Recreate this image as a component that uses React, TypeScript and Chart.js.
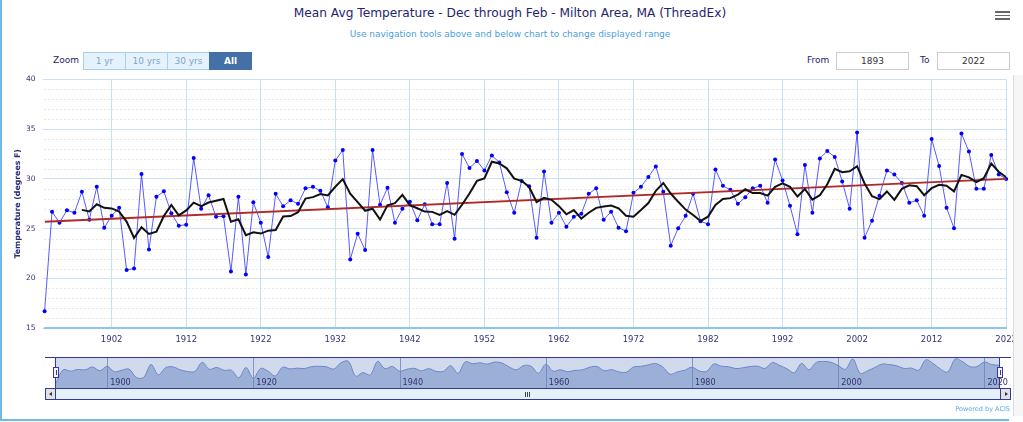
import React, { useEffect, useRef } from "react";
import { Chart, registerables } from "chart.js";

Chart.register(...registerables);

// ---------- data ----------
const firstYear = 1893;
const lastYear = 2022;
// Mean of Dec-Feb temperature (deg F), one value per year from 1893 to 2022
const meanTemp = [
  16.7, 26.7, 25.6, 26.85, 26.6, 28.7, 25.9, // 1893-1899
  29.2, 25.1, 26.3, 27.1, 20.85, 21.0, 30.5, 22.9, 28.2, 28.75, // 1900s
  26.55, 25.3, 25.4, 32.1, 27.0, 28.35, 26.2, 26.25, 20.7, 28.2, // 1910s
  20.4, 27.65, 25.6, 22.15, 28.5, 27.25, 27.85, 27.5, 29.05, 29.2, // 1920s
  28.8, 27.15, 31.85, 32.9, 21.9, 24.5, 22.85, 32.9, 27.4, 29.1, // 1930s
  25.6, 27.0, 27.7, 25.85, 27.45, 25.45, 25.45, 29.6, 24.0, 32.5, // 1940s
  31.1, 31.8, 30.85, 32.35, 31.65, 28.65, 26.6, 29.8, 29.25, 24.1, // 1950s
  30.75, 25.6, 26.6, 25.2, 26.2, 26.5, 28.5, 29.05, 25.9, 26.7, // 1960s
  25.1, 24.75, 28.6, 29.2, 30.2, 31.25, 28.7, 23.3, 25.05, 26.3, // 1970s
  28.5, 25.75, 25.45, 30.95, 29.3, 28.9, 27.5, 28.15, 29.05, 29.3, // 1980s
  27.6, 31.95, 29.85, 27.3, 24.45, 31.4, 26.6, 32.05, 32.8, 32.2, // 1990s
  29.75, 27.0, 34.65, 24.1, 25.8, 28.3, 30.85, 30.45, 29.6, 27.6, // 2000s
  27.85, 26.3, 34.0, 31.3, 27.1, 25.05, 34.55, 32.75, 29.0, 29.0, // 2010s
  32.4, 30.45, 30.0, // 2020-2022
];

// 5-year running mean (black line), starts 1898
const meanStartYear = 1898;
const fiveYearMean = [
  26.89, 26.73, // 1898-1899
  27.45, 27.1, 27.04, 26.72, 25.71, 24.07, 25.15, 24.47, 24.69, 26.27,
  27.38, 26.34, 26.84, 27.62, 27.27, 27.63, 27.81, 27.98, 25.7, 25.94,
  24.35, 24.64, 24.51, 24.8, 24.86, 26.23, 26.27, 26.65, 28.03, 28.17,
  28.48, 28.34, 29.21, 29.98, 28.52, 27.66, 26.8, 27.01, 25.91, 27.35,
  27.57, 28.4, 27.36, 27.05, 26.72, 26.69, 26.38, 26.76, 26.39, 27.4,
  28.53, 29.8, 30.05, 31.72, 31.55, 31.06, 30.02, 29.81, 29.19, 27.68,
  28.1, 27.9, 27.26, 26.45, 26.87, 26.02, 26.6, 27.09, 27.23, 27.33,
  27.05, 26.3, 26.21, 26.87, 27.57, 28.8, 29.59, 28.53, 27.7, 26.92,
  26.37, 25.78, 26.21, 27.39, 27.99, 28.07, 28.42, 28.96, 28.58, 28.58,
  28.32, 29.21, 29.55, 29.2, 28.23, 28.99, 27.92, 28.36, 29.46, 31.01,
  30.68, 30.76, 31.28, 29.54, 28.26, 27.97, 28.74, 27.9, 29.0, 29.36,
  29.27, 28.36, 29.07, 29.41, 29.31, 28.75, 30.4, 30.15, 29.69, 30.07,
  31.54, 30.72, 30.17,
];

// Linear trend (red line) end points
const trendYears = [1893, 2022];
const trendValues = [25.7, 30.0];

const xTickYears = [1902, 1912, 1922, 1932, 1942, 1952, 1962, 1972, 1982, 1992, 2002, 2012, 2022];
const navTickYears = [1900, 1920, 1940, 1960, 1980, 2000, 2020];
const yMin = 15;
const yMax = 40;
const yMajorStep = 5;

const titleText = "Mean Avg Temperature - Dec through Feb - Milton Area, MA (ThreadEx)";
const subtitleText = "Use navigation tools above and below chart to change displayed range";
const yAxisTitle = "Temperature (degrees F)";
const zoomButtons = ["1 yr", "10 yrs", "30 yrs", "All"];

const FONT = '"DejaVu Sans", sans-serif';

const minorGridPlugin = {
  id: "minorGrid",
  beforeDatasetsDraw(chart: any) {
    const { ctx, chartArea, scales } = chart;
    const ys = scales.y;
    ctx.save();
    ctx.strokeStyle = "#cfcfcf";
    ctx.lineWidth = 1;
    ctx.setLineDash([1, 3]);
    for (let v = yMin + 1; v < yMax; v++) {
      if (v % yMajorStep === 0) continue;
      const py = Math.round(ys.getPixelForValue(v)) + 0.5;
      ctx.beginPath();
      ctx.moveTo(chartArea.left, py);
      ctx.lineTo(chartArea.right, py);
      ctx.stroke();
    }
    ctx.restore();
  },
};

const navPlugin = {
  id: "navDecor",
  beforeDatasetsDraw(chart: any) {
    const { ctx, chartArea, scales } = chart;
    ctx.save();
    ctx.strokeStyle = "rgba(60,70,140,0.55)";
    ctx.lineWidth = 1;
    for (const yr of navTickYears) {
      const px = Math.round(scales.x.getPixelForValue(yr)) + 0.5;
      ctx.beginPath();
      ctx.moveTo(px, chartArea.top);
      ctx.lineTo(px, chartArea.bottom);
      ctx.stroke();
    }
    ctx.restore();
  },
  afterDatasetsDraw(chart: any) {
    const { ctx, chartArea, scales } = chart;
    ctx.save();
    ctx.fillStyle = "rgba(102,133,194,0.3)";
    ctx.fillRect(chartArea.left, chartArea.top, chartArea.right - chartArea.left, chartArea.bottom - chartArea.top);
    ctx.fillStyle = "#33336e";
    ctx.font = `8.1px ${FONT}`;
    ctx.textBaseline = "alphabetic";
    ctx.textAlign = "left";
    for (const yr of navTickYears) {
      const px = scales.x.getPixelForValue(yr);
      ctx.fillText(String(yr), px + 3, chartArea.bottom - 3);
    }
    ctx.restore();
  },
};

export default function App() {
  const mainRef = useRef<HTMLCanvasElement>(null);
  const navRef = useRef<HTMLCanvasElement>(null);

  useEffect(() => {
    Chart.defaults.font.family = FONT;
    const tempPoints = meanTemp.map((v, i) => ({ x: firstYear + i, y: v }));
    const meanPoints = fiveYearMean.map((v, i) => ({ x: meanStartYear + i, y: v }));
    const trendPoints = trendYears.map((yr, i) => ({ x: yr, y: trendValues[i] }));

    const main = new Chart(mainRef.current as HTMLCanvasElement, {
      type: "line",
      data: {
        datasets: [
          {
            label: "Mean Avg Temperature",
            data: tempPoints,
            borderColor: "rgba(20,20,255,0.7)",
            borderWidth: 1,
            pointRadius: 2,
            pointBackgroundColor: "#0000ff",
            pointBorderWidth: 0,
            tension: 0,
            order: 3,
            clip: false,
          } as any,
          {
            label: "Trend",
            data: trendPoints,
            borderColor: "#b02a2a",
            borderWidth: 1.8,
            pointRadius: 0,
            order: 2,
          },
          {
            label: "5-yr mean",
            data: meanPoints,
            borderColor: "#111111",
            borderWidth: 2,
            pointRadius: 0,
            order: 1,
          },
        ],
      },
      options: {
        animation: false,
        responsive: true,
        maintainAspectRatio: false,
        devicePixelRatio: 1,
        events: [],
        layout: { padding: { left: 0, top: 79.3, right: 12, bottom: 73.7 } },
        plugins: { legend: { display: false }, tooltip: { enabled: false }, title: { display: false } },
        scales: {
          x: {
            type: "linear",
            min: firstYear,
            max: lastYear,
            afterBuildTicks: (s: any) => {
              s.ticks = xTickYears.map((v) => ({ value: v }));
            },
            afterFit: (s: any) => {
              s.height = 20;
            },
            grid: { color: "#c8e1f4", lineWidth: 1, drawTicks: false },
            border: { color: "#8cc6ec", width: 2 },
            ticks: {
              padding: 6,
              color: "#34347a",
              font: { size: 8.5 },
              maxRotation: 0,
              autoSkip: false,
              callback: (v: any) => String(v),
            },
          },
          y: {
            min: yMin,
            max: yMax,
            afterFit: (s: any) => {
              s.width = 44.6;
            },
            ticks: { stepSize: yMajorStep, padding: 7, color: "#34347a", font: { size: 7.5 } },
            grid: { color: "#c8e1f4", lineWidth: 1, tickLength: 2 },
            border: { display: false },
            title: {
              display: true,
              text: yAxisTitle,
              color: "#2a2a78",
              font: { size: 7.8, weight: "bold" },
              padding: { top: 13.2, bottom: 0 },
            },
          },
        },
      } as any,
      plugins: [minorGridPlugin],
    });

    const nav = new Chart(navRef.current as HTMLCanvasElement, {
      type: "line",
      data: {
        datasets: [
          {
            data: tempPoints,
            borderColor: "#6d87c6",
            borderWidth: 1,
            backgroundColor: "rgba(102,133,194,0.5)",
            fill: "start",
            pointRadius: 0,
            tension: 0.35,
          },
        ],
      },
      options: {
        animation: false,
        responsive: true,
        maintainAspectRatio: false,
        devicePixelRatio: 1,
        events: [],
        layout: { padding: { left: 0, top: 0, bottom: 0, right: 12 } },
        plugins: { legend: { display: false }, tooltip: { enabled: false } },
        scales: {
          x: { type: "linear", min: firstYear, max: lastYear, display: false },
          y: { min: 13.1, max: 36.1, display: false },
        },
      } as any,
      plugins: [navPlugin],
    });

    return () => {
      main.destroy();
      nav.destroy();
    };
  }, []);

  const navBlue = "#34389a";
  const abs = (s: any): any => ({ position: "absolute", ...s });

  return (
    <div
      style={{
        position: "fixed",
        left: 0,
        top: 0,
        width: 1023,
        height: 422,
        background: "#ffffff",
        overflow: "hidden",
        fontFamily: FONT,
      }}
    >
      {/* frame */}
      <div style={abs({ left: 0, top: 0, width: 2, height: 421, background: "#6dbbe9" })} />
      <div style={abs({ left: 0, top: 419, width: 1009, height: 2, background: "#6dbbe9" })} />

      {/* title + subtitle */}
      <div style={abs({ left: 0, top: 6, width: 1020, textAlign: "center", fontSize: 12.2, lineHeight: "14px", color: "#24246e", whiteSpace: "nowrap" })}>
        {titleText}
      </div>
      <div style={abs({ left: 0, top: 28.5, width: 1020, textAlign: "center", fontSize: 9, lineHeight: "11px", color: "#4aa0dc", whiteSpace: "nowrap" })}>
        {subtitleText}
      </div>

      {/* context menu icon */}
      {[11, 14.7, 18.3].map((t) => (
        <div key={t} style={abs({ left: 995, top: t, width: 15, height: 1.8, background: "#666" })} />
      ))}

      {/* range selector */}
      <div style={abs({ left: 53, top: 55, fontSize: 9, lineHeight: "11px", color: "#24246e" })}>Zoom</div>
      {zoomButtons.map((b, i) => {
        const sel = i === zoomButtons.length - 1;
        return (
          <div
            key={b}
            style={abs({
              left: 83 + i * 42,
              top: 52,
              width: 43,
              height: 18,
              boxSizing: "border-box",
              border: sel ? "1px solid #4470a8" : "1px solid #a6d0f0",
              background: sel ? "#4470a8" : "#e6f2fb",
              color: sel ? "#ffffff" : "#7aa6cc",
              fontWeight: sel ? "bold" : "normal",
              fontSize: 9,
              lineHeight: "16px",
              textAlign: "center",
            })}
          >
            {b}
          </div>
        );
      })}
      <div style={abs({ left: 807, top: 55, fontSize: 9, lineHeight: "11px", color: "#24246e" })}>From</div>
      <div style={abs({ left: 836, top: 52, width: 73, height: 18, boxSizing: "border-box", border: "1px solid #cccccc", fontSize: 9, lineHeight: "16px", textAlign: "center", color: "#333" })}>
        {String(firstYear)}
      </div>
      <div style={abs({ left: 920, top: 55, fontSize: 9, lineHeight: "11px", color: "#24246e" })}>To</div>
      <div style={abs({ left: 937, top: 52, width: 73, height: 18, boxSizing: "border-box", border: "1px solid #cccccc", fontSize: 9, lineHeight: "16px", textAlign: "center", color: "#333" })}>
        {String(lastYear)}
      </div>

      {/* main chart */}
      <div style={abs({ left: 0, top: 0, width: 1023, height: 422 })}>
        <canvas ref={mainRef} />
      </div>

      {/* navigator */}
      <div style={abs({ left: 56, top: 357, width: 955, height: 31 })}>
        <canvas ref={navRef} />
      </div>
      <div style={abs({ left: 45, top: 357, width: 966, height: 1, background: navBlue })} />
      <div style={abs({ left: 55, top: 357, width: 1, height: 31, background: navBlue })} />
      <div style={abs({ left: 999, top: 357, width: 1, height: 31, background: navBlue })} />
      {[53, 997].map((l) => (
        <div key={l} style={abs({ left: l, top: 367, width: 6, height: 11, boxSizing: "border-box", border: `1px solid ${navBlue}`, background: "#f2f2f2" })}>
          <div style={abs({ left: 1.5, top: 2, width: 1, height: 5, background: navBlue })} />
        </div>
      ))}

      {/* scrollbar */}
      <div style={abs({ left: 45, top: 388, width: 966, height: 12, boxSizing: "border-box", border: `1px solid ${navBlue}`, background: "#e4f0fa" })} />
      <div style={abs({ left: 45, top: 388, width: 11, height: 12, boxSizing: "border-box", border: `1px solid ${navBlue}`, background: "#e2e2e2" })}>
        <div style={abs({ left: 3, top: 3, width: 0, height: 0, borderTop: "2px solid transparent", borderBottom: "2px solid transparent", borderRight: "3px solid #333" })} />
      </div>
      <div style={abs({ left: 1000, top: 388, width: 11, height: 12, boxSizing: "border-box", border: `1px solid ${navBlue}`, background: "#e2e2e2" })}>
        <div style={abs({ left: 4, top: 3, width: 0, height: 0, borderTop: "2px solid transparent", borderBottom: "2px solid transparent", borderLeft: "3px solid #333" })} />
      </div>
      {[525, 527, 529].map((l) => (
        <div key={l} style={abs({ left: l, top: 391.5, width: 1, height: 5, background: "#444" })} />
      ))}

      {/* page edge strip on the right */}
      <div style={abs({ left: 1013, top: 75, width: 10, height: 341, background: "#f6f6f6", borderLeft: "1px solid #dcdcdc" })} />

      {/* credits */}
      <div style={abs({ left: 900, top: 405, width: 110, textAlign: "right", fontSize: 6.5, lineHeight: "8px", color: "#5aaae0", whiteSpace: "nowrap" })}>
        Powered by ACIS
      </div>
    </div>
  );
}
